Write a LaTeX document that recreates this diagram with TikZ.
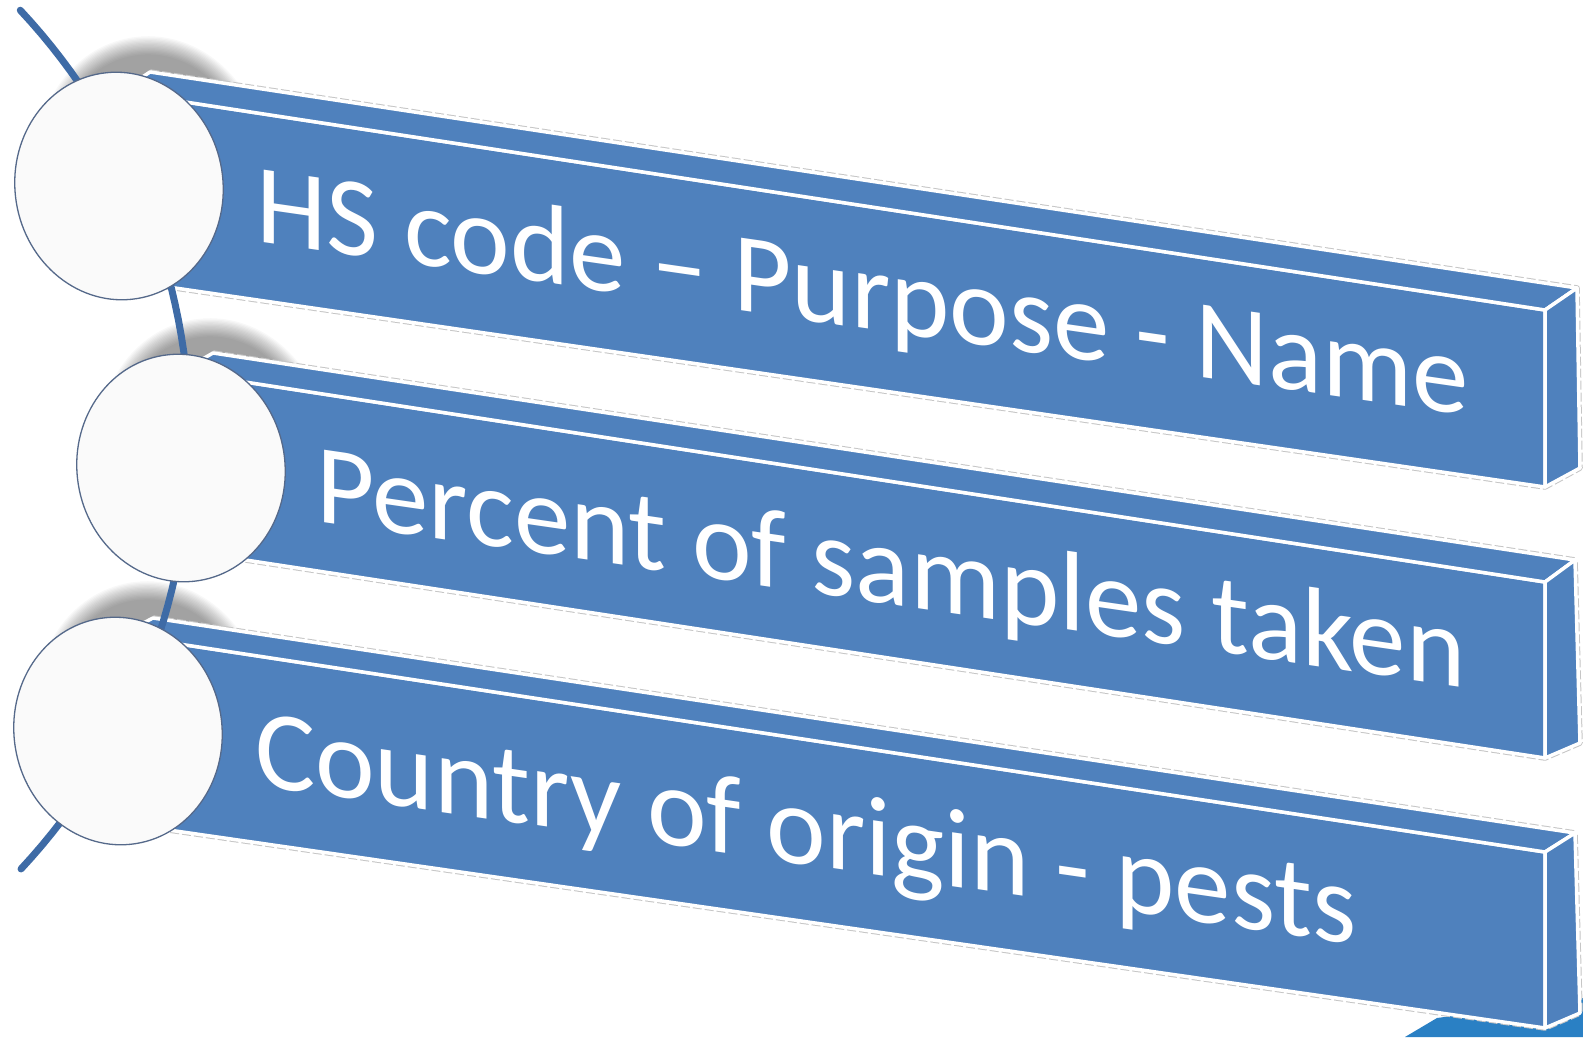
\documentclass[tikz,border=0pt]{standalone}
\usepackage{fontspec}
\setmainfont{Carlito}
\usetikzlibrary{shapes.geometric}
\definecolor{barblue}{HTML}{4F81BD}
\definecolor{linkblue}{HTML}{3E6BA6}
\definecolor{tealpart}{HTML}{2A80C4}
\definecolor{rimblue}{HTML}{55698A}
\begin{document}
\begin{tikzpicture}[x=1pt,y=-1pt,
  barface/.style={fill=barblue, draw=white, line width=3.5pt, line join=round},
  ghostline/.style={draw=gray!45, line width=5.5pt, line join=round, dash pattern=on 9pt off 3pt},
  discnode/.style={ellipse, fill=white!98!black, draw=rimblue, line width=1.3pt,
    minimum width=208pt, minimum height=228pt, inner sep=0pt, rotate=9},
  bartext/.style={anchor=base west, inner sep=0pt, text=white,
    font=\fontsize{113}{120}\selectfont, transform shape}]
\fill[white] (0,0) rectangle (1583,1037);
\useasboundingbox (0,0) rectangle (1583,1037);

% partial shape at bottom right
\fill[tealpart] (1405,1037) -- (1437,1018) -- (1583,998) -- (1583,1037) -- cycle;

% soft shadows above the discs
\foreach \cx/\cy in {151/159, 213/441, 150/704} {
  \foreach \i in {0,...,14} {
    \fill[black, opacity=0.029, rotate around={9:(\cx,\cy)}]
      (\cx,\cy) ellipse [x radius={113pt-1.3pt*\i}, y radius={123pt-1.3pt*\i}];
  }
}

% bar 1
\coordinate (a1) at (120,92);
\coordinate (a2) at (1545,310);
\coordinate (a3) at (1545,487);
\coordinate (a4) at (120,280);
\coordinate (a5) at (150,72);
\coordinate (a6) at (1577,288);
\coordinate (a7) at (1580,468);
\draw[ghostline] (a5)--(a6)--(a7)--(a3)--(a4);
\filldraw[barface] (a1)--(a2)--(a3)--(a4)--cycle;
\filldraw[barface] (a5)--(a6)--(a2)--(a1)--cycle;
\filldraw[barface] (a2)--(a6)--(a7)--(a3)--cycle;

% bar 2
\coordinate (b1) at (180,372);
\coordinate (b2) at (1545,582);
\coordinate (b3) at (1545,758);
\coordinate (b4) at (180,550);
\coordinate (b5) at (213,353);
\coordinate (b6) at (1575,560);
\coordinate (b7) at (1580,743);
\draw[ghostline] (b5)--(b6)--(b7)--(b3)--(b4);
\filldraw[barface] (b1)--(b2)--(b3)--(b4)--cycle;
\filldraw[barface] (b5)--(b6)--(b2)--(b1)--cycle;
\filldraw[barface] (b2)--(b6)--(b7)--(b3)--cycle;

% bar 3
\coordinate (c1) at (120,635);
\coordinate (c2) at (1545,852);
\coordinate (c3) at (1545,1028);
\coordinate (c4) at (120,823);
\coordinate (c5) at (153,618);
\coordinate (c6) at (1575,833);
\coordinate (c7) at (1580,1013);
\draw[ghostline] (c5)--(c6)--(c7)--(c3)--(c4);
\filldraw[barface] (c1)--(c2)--(c3)--(c4)--cycle;
\filldraw[barface] (c5)--(c6)--(c2)--(c1)--cycle;
\filldraw[barface] (c2)--(c6)--(c7)--(c3)--cycle;

% curved spine behind the discs
\draw[linkblue, line width=7pt, line cap=round]
  plot[domain=-43.1:43, samples=60] ({-439+629*cos(\x)},{440+629*sin(\x)});

% discs
\node[discnode] (k1) at (119,186) {};
\node[discnode] (k2) at (181,468) {};
\node[discnode] (k3) at (118,731) {};

% texts
\begin{scope}[shift={(256,241)}, yslant=-0.144]
  \node[bartext] (t1) at (0,0) {HS code – Purpose - Name};
\end{scope}
\begin{scope}[shift={(316,521)}, yslant=-0.145]
  \node[bartext] (t2) at (0,0) {Percent of samples taken};
\end{scope}
\begin{scope}[shift={(255,785)}, yslant=-0.145]
  \node[bartext] (t3) at (0,0) {Country of origin - pests};
\end{scope}
\end{tikzpicture}
\end{document}
